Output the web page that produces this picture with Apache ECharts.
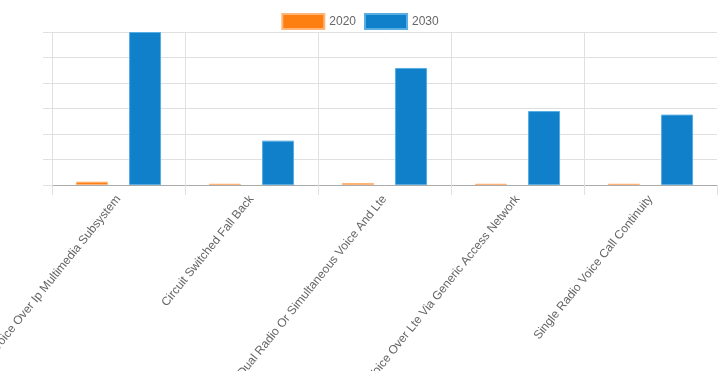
<!DOCTYPE html>
<html>
<head>
<meta charset="utf-8">
<script src="https://cdn.jsdelivr.net/npm/echarts@6/dist/echarts.min.js"></script>
<style>
html,body{margin:0;padding:0;background:#fff;}
#chart{width:720px;height:371px;}
</style>
</head>
<body>
<div id="chart"></div>
<script>
const categories = [
  "Voice Over Ip Multimedia Subsystem",
  "Circuit Switched Fall Back",
  "Dual Radio Or Simultaneous Voice And Lte",
  "Voice Over Lte Via Generic Access Network",
  "Single Radio Voice Call Continuity"
];
const seriesNames = ["2020", "2030"];
const values2020 = [0.13, 0.05, 0.08, 0.05, 0.05];
const values2030 = [6.0, 1.74, 4.59, 2.9, 2.76];

const chart = echarts.init(document.getElementById('chart'), null, {renderer: 'canvas'});
const font = 'Liberation Sans, Arial, Helvetica, sans-serif';
chart.setOption({
  animation: false,
  textStyle: {fontFamily: font},
  legend: {
    top: 8,
    left: 'center',
    icon: 'rect',
    itemWidth: 42,
    itemHeight: 15,
    itemGap: 8,
    textStyle: {color: '#666', fontSize: 12, fontFamily: font},
    data: seriesNames
  },
  grid: {left: 52, right: 3, top: 32, bottom: 186, containLabel: false, outerBoundsMode: 'none'},
  xAxis: {
    type: 'category',
    data: categories,
    boundaryGap: true,
    axisLine: {show: true, lineStyle: {color: '#aaaaaa', width: 1}},
    axisTick: {show: true, length: 10, alignWithLabel: false, lineStyle: {color: '#e0e0e0'}},
    axisLabel: {rotate: 51, color: '#666', fontSize: 12, fontFamily: font, margin: 12, interval: 0},
    splitLine: {show: true, showMinLine: true, showMaxLine: false, lineStyle: {color: '#e0e0e0'}}
  },
  yAxis: {
    type: 'value',
    min: 0,
    max: 6,
    interval: 1,
    axisLine: {show: false},
    axisTick: {show: true, length: 9, lineStyle: {color: '#e0e0e0'}},
    axisLabel: {show: false},
    splitLine: {show: true, lineStyle: {color: '#e0e0e0'}}
  },
  series: [
    {
      name: seriesNames[0],
      type: 'bar',
      data: values2020,
      barWidth: 32,
      barGap: '66%',
      itemStyle: {color: '#fd7f12', borderColor: '#ffb577', borderWidth: 1}
    },
    {
      name: seriesNames[1],
      type: 'bar',
      data: values2030,
      barWidth: 32,
      itemStyle: {color: '#1080ca', borderColor: '#58ade3', borderWidth: 1}
    }
  ]
});
</script>
</body>
</html>
